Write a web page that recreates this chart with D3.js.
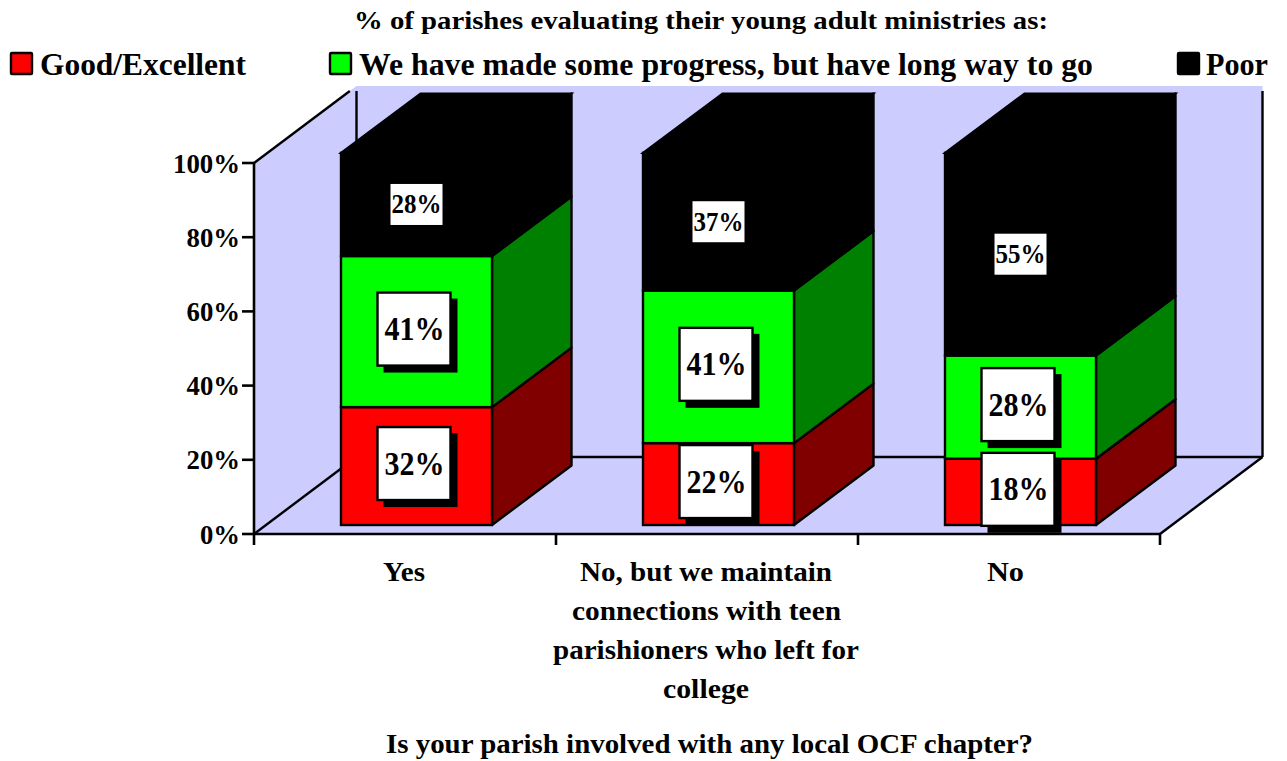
<!DOCTYPE html>
<html><head><meta charset="utf-8">
<script src="https://cdn.jsdelivr.net/npm/d3@7/dist/d3.min.js"></script>
<style>
html,body{margin:0;padding:0;background:#fff}
svg{display:block}
text{font-family:"Liberation Serif",serif;font-weight:bold;fill:#000}
</style></head><body><svg id="c" width="1287" height="761"></svg>
<script>
const categories = ["Yes","No, but we maintain connections with teen parishioners who left for college","No"];
const seriesNames = ["Good/Excellent","We have made some progress, but have long way to go","Poor"];
const goodExcellent = [32,22,18];
const someProgress = [41,41,28];
const poor = [28,37,55];
const yTicks = [0,20,40,60,80,100];
const titleText = "% of parishes evaluating their young adult ministries as:";
const xTitleText = "Is your parish involved with any local OCF chapter?";
const categoryLines = [["Yes"],["No, but we maintain","connections with teen","parishioners who left for","college"],["No"]];

const frontColors = ["#ff0000","#00ff00","#000000"];
const sideColors = ["#800000","#008000","#000000"];
const wall = "#ccccff";

const svg = d3.select("#c");
const L=254,R=1160,B=534,T=163, dx=102.5,dy=77;
const bdx=79.5,bdy=59.5;               // bar depth
const x = d3.scaleBand().domain(d3.range(3)).range([L,R]);
const y = d3.scaleLinear().domain([0,100]).range([B,T]);
const barW = x.bandwidth()/2;
const shiftX=11.5, shiftY=9;

function fit(sel,str,x0,x1,base,size){
  return sel.append("text").attr("x",x0).attr("y",base).attr("font-size",size)
    .attr("textLength",x1-x0).attr("lengthAdjust","spacingAndGlyphs").text(str);
}

// walls and floor
svg.append("path").attr("fill",wall)
  .attr("d",d3.line()([[L,T],[L+dx,T-dy],[R+dx,T-dy],[R+dx,B-dy],[R,B],[L,B]])+"Z");
const ln = (a,b,c,d)=>svg.append("line").attr("x1",a).attr("y1",b).attr("x2",c).attr("y2",d)
  .attr("stroke","#000").attr("stroke-width",2.4);
const clipTop=91, clipX=L+dx*(T-clipTop)/dy;
ln(L,T,clipX,clipTop);
ln(L+dx,clipTop,L+dx,B-dy);
ln(R+dx,clipTop,R+dx,B-dy);
ln(L+dx,B-dy,R+dx,B-dy);
ln(L,B,L+dx,B-dy);
ln(R,B,R+dx,B-dy);

// axes
const yAxis = d3.axisLeft(y).tickValues(yTicks).tickSize(12).tickFormat("").offset(0);
const gy = svg.append("g").attr("transform",`translate(${L},0)`).call(yAxis);
const xTickScale = d3.scaleLinear().domain([0,3]).range([L,R]);
const xAxis = d3.axisBottom(xTickScale).tickValues([0,1,2,3]).tickSize(11).tickFormat("").offset(0);
const gx = svg.append("g").attr("transform",`translate(0,${B})`).call(xAxis);
[gy,gx].forEach(g=>{g.selectAll("path,line").attr("stroke","#000").attr("stroke-width",2.6);
  g.select(".domain").attr("d", g===gy?`M0,${B}V${T}`:`M${L},0H${R}`);});

// stacked bars (values are normalised to 100%)
const rows = categories.map((c,i)=>({i,a:goodExcellent[i],b:someProgress[i],c:poor[i]}));
const stack = d3.stack().keys(["a","b","c"]).offset(d3.stackOffsetExpand)(rows);
const yb = v => y(v*100.3)-shiftY;
const labels=[];
stack.forEach((s,si)=>{
  s.forEach((d,i)=>{
    const x0=x(i)+barW/2+shiftX, x1=x0+barW, y0=yb(d[0]), y1=yb(d[1]);
    const g=svg.append("g");
    g.append("path").attr("fill",sideColors[si]).attr("stroke","#000").attr("stroke-width",2.4).attr("stroke-linejoin","round")
      .attr("d",d3.line()([[x1,y0],[x1+bdx,y0-bdy],[x1+bdx,y1-bdy],[x1,y1]])+"Z");
    if(si===2) g.append("path").attr("fill","#000").attr("stroke","#000").attr("stroke-width",2)
      .attr("d",d3.line()([[x0,y1],[x0+bdx,y1-bdy],[x1+bdx,y1-bdy],[x1,y1]])+"Z");
    g.append("rect").attr("x",x0).attr("y",y1).attr("width",barW).attr("height",y0-y1)
      .attr("fill",frontColors[si]).attr("stroke","#000").attr("stroke-width",2.4);
    labels.push({si,cx:(x0+x1)/2,cy:(y0+y1)/2,v:[goodExcellent,someProgress,poor][si][i]});
  });
});

// value labels
labels.forEach(l=>{
  if(l.si===2){
    const bw=52,bh=41;
    svg.append("rect").attr("x",l.cx-bw/2).attr("y",l.cy-bh/2).attr("width",bw).attr("height",bh).attr("fill","#fff");
    fit(svg,l.v+"%",l.cx-25,l.cx+25,l.cy+9,27);
  } else {
    const bs=73, bx=l.cx-bs/2-2.5, by=l.cy-bs/2-2.5;
    svg.append("rect").attr("x",bx+6).attr("y",by+6).attr("width",bs+1).attr("height",bs+1).attr("fill","#000");
    svg.append("rect").attr("x",bx).attr("y",by).attr("width",bs).attr("height",bs)
      .attr("fill","#fff").attr("stroke","#000").attr("stroke-width",2.4);
    fit(svg,l.v+"%",bx+7,bx+67,by+bs/2+11,33);
  }
});

// y tick labels
yTicks.forEach(t=>{
  svg.append("text").attr("x",240).attr("y",y(t)+9.5).attr("text-anchor","end").attr("font-size",28)
    .attr("textLength",t===100?67:t===0?40:53.5).attr("lengthAdjust","spacingAndGlyphs").text(t+"%");
});

// category labels
const catExtents=[[[383,425]],[[580,832],[572,841],[553,859],[663,749]],[[987,1024]]];
categoryLines.forEach((lines,i)=>lines.forEach((t,j)=>{
  fit(svg,t,catExtents[i][j][0],catExtents[i][j][1],581+j*39,28);
}));

// titles
fit(svg,titleText,354,1048,29,26);
fit(svg,xTitleText,386,1033,753,28);

// legend
const legendItems=[{sw:10,a:40,b:246},{sw:329,a:359,b:1093},{sw:1177,a:1206,b:1268}];
legendItems.forEach((o,i)=>{
  svg.append("rect").attr("x",o.sw+1).attr("y",53).attr("width",21).attr("height",21)
    .attr("fill",frontColors[i]).attr("stroke","#000").attr("stroke-width",2.4).attr("rx",1);
  fit(svg,seriesNames[i],o.a,o.b,75,31);
});
</script></body></html>
